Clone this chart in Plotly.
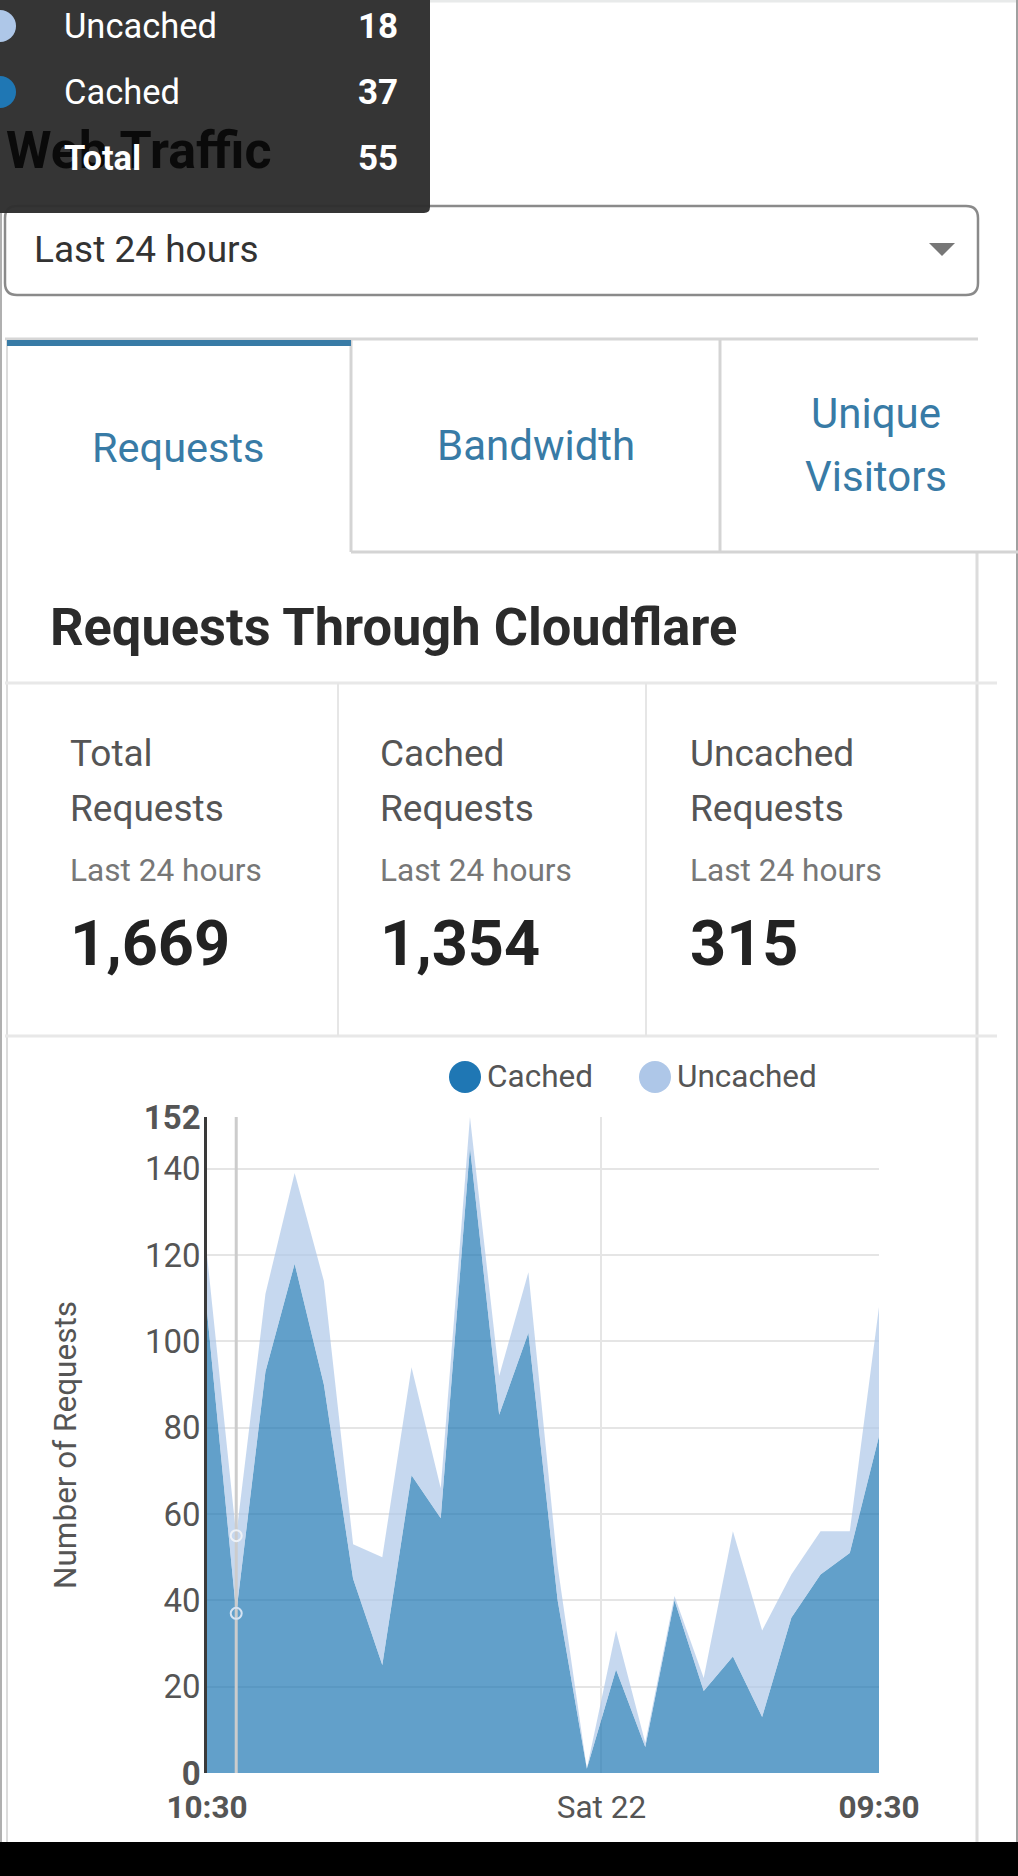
import plotly.graph_objs as go

W, H = 1018, 1876
# plot area in page pixels, paper coords are relative to this box
LEFT, RIGHT, TOP, BOTTOM = 207, 879, 1117, 1773

hours = ['2020-02-21 10:30', '2020-02-21 11:30', '2020-02-21 12:30', '2020-02-21 13:30',
         '2020-02-21 14:30', '2020-02-21 15:30', '2020-02-21 16:30', '2020-02-21 17:30',
         '2020-02-21 18:30', '2020-02-21 19:30', '2020-02-21 20:30', '2020-02-21 21:30',
         '2020-02-21 22:30', '2020-02-21 23:30', '2020-02-22 00:30', '2020-02-22 01:30',
         '2020-02-22 02:30', '2020-02-22 03:30', '2020-02-22 04:30', '2020-02-22 05:30',
         '2020-02-22 06:30', '2020-02-22 07:30', '2020-02-22 08:30', '2020-02-22 09:30']
cached = [107, 37, 93, 118, 90, 45, 25, 69, 59, 145, 83, 102,
          40, 1, 24, 6, 40, 19, 27, 13, 36, 46, 51, 78]
uncached = [13, 18, 18, 21, 24, 8, 25, 25, 7, 7, 9, 14,
            8, 0, 9, 1, 1, 3, 29, 20, 10, 10, 5, 30]

y_ticks = [0, 20, 40, 60, 80, 100, 120, 140, 152]
y_labels = ['<b>0</b>', '20', '40', '60', '80', '100', '120', '140', '<b>152</b>']
y_grid = [20, 40, 60, 80, 100, 120, 140]
x_ticks = ['2020-02-21 10:30', '2020-02-22 00:00', '2020-02-22 09:30']
x_labels = ['<b>10:30</b>', 'Sat 22', '<b>09:30</b>']
x_grid = ['2020-02-22 00:00']

tab_names = ['Requests', 'Bandwidth']
stat_names = [('Total', 'Requests'), ('Cached', 'Requests'), ('Uncached', 'Requests')]
stat_values = ['1,669', '1,354', '315']
tooltip_rows = [('Uncached', '18'), ('Cached', '37'), ('Total', '55')]

FONT = 'Roboto'
BLUE = '#1f77b4'
LIGHT = '#aec7e8'
LINK = '#387ba6'


def px(x):
    return (x - LEFT) / (RIGHT - LEFT)


def py(y):
    return (BOTTOM - y) / (BOTTOM - TOP)


def label(x, y, text, size, color, anchor='left', bold=False):
    return dict(xref='paper', yref='paper', x=px(x), y=py(y), text='<b>%s</b>' % text if bold else text,
                showarrow=False, xanchor=anchor, yanchor='middle', borderpad=0,
                font=dict(family=FONT, size=size, color=color))


def line(x0, y0, x1, y1, color, width=2):
    return dict(type='line', xref='paper', yref='paper', x0=px(x0), y0=py(y0), x1=px(x1), y1=py(y1),
                line=dict(color=color, width=width), layer='below')


def rect(x0, y0, x1, y1, fill, layer='above'):
    return dict(type='rect', xref='paper', yref='paper', x0=px(x0), y0=py(y0), x1=px(x1), y1=py(y1),
                fillcolor=fill, line=dict(width=0), layer=layer)


def dot(cx, cy, r, fill):
    return dict(type='circle', xref='paper', yref='paper', x0=px(cx - r), y0=py(cy - r), x1=px(cx + r), y1=py(cy + r),
                fillcolor=fill, line=dict(width=0), layer='above')


fig = go.Figure()
fig.add_trace(go.Scatter(x=hours, y=cached, name='Cached', mode='lines', stackgroup='requests',
                         line=dict(width=0), fillcolor='rgba(31,119,180,0.7)'))
fig.add_trace(go.Scatter(x=hours, y=uncached, name='Uncached', mode='lines', stackgroup='requests',
                         line=dict(width=0), fillcolor='rgba(174,199,232,0.7)'))

# hover guide that was frozen in the screenshot
fig.add_trace(go.Scatter(x=[hours[1], hours[1]], y=[0, 152], mode='lines', hoverinfo='skip',
                         line=dict(color='#cccccc', width=3)))
fig.add_trace(go.Scatter(x=[hours[1]], y=[cached[1] + uncached[1]], mode='markers', hoverinfo='skip',
                         marker=dict(size=11, color='rgba(0,0,0,0)', line=dict(color='#eef2f7', width=2))))
fig.add_trace(go.Scatter(x=[hours[1]], y=[cached[1]], mode='markers', hoverinfo='skip',
                         marker=dict(size=11, color='rgba(0,0,0,0)', line=dict(color='#d5e3f3', width=2))))

shapes = [
    line(430, 1, 1018, 1, '#e8eaea', 3),
    line(1, 213, 1, 1842, '#b0b0b0', 2),
    line(1017, 0, 1017, 1842, '#a0a0a0', 2),
    line(7, 340, 7, 1842, '#dcdcdc', 2),
    line(977, 552, 977, 1842, '#dcdcdc', 3),
    # select box
    dict(type='path', xref='paper', yref='paper', layer='below',
         path='M %f %f L %f %f Q %f %f %f %f L %f %f Q %f %f %f %f L %f %f Q %f %f %f %f L %f %f Q %f %f %f %f Z' % (
             px(17), py(206), px(966), py(206), px(978), py(206), px(978), py(218),
             px(978), py(283), px(978), py(295), px(966), py(295),
             px(17), py(295), px(5), py(295), px(5), py(283),
             px(5), py(218), px(5), py(206), px(17), py(206)),
         line=dict(color='#8a8a8a', width=2.5), fillcolor='white'),
    dict(type='path', xref='paper', yref='paper', layer='above',
         path='M %f %f L %f %f L %f %f Z' % (px(929), py(243), px(955), py(243), px(942), py(256)),
         fillcolor='#777777', line=dict(width=0)),
    # tabs
    line(5, 339, 978, 339, '#d6d6d6', 3),
    rect(7, 340, 351, 346, '#387ba6'),
    line(351, 340, 351, 552, '#d4d4d4', 3),
    line(720, 340, 720, 552, '#d4d4d4', 3),
    line(351, 552, 1018, 552, '#d4d4d4', 3),
    # stat panel
    line(5, 683, 997, 683, '#e8e8e8', 3),
    line(5, 1036, 997, 1036, '#e8e8e8', 3),
    line(338, 683, 338, 1036, '#e6e6e6', 2),
    line(646, 683, 646, 1036, '#e6e6e6', 2),
    # chart legend
    dot(465, 1077, 16, BLUE),
    dot(655, 1077, 16, LIGHT),
    # black strip under the page
    rect(0, 1842, W, H, 'black'),
    # tooltip frozen in the screenshot
    dict(type='path', xref='paper', yref='paper', layer='above',
         path='M %f %f L %f %f L %f %f Q %f %f %f %f L %f %f Z' % (
             px(0), py(0), px(430), py(0), px(430), py(207), px(430), py(213), px(424), py(213), px(0), py(213)),
         fillcolor='rgba(46,46,46,0.97)', line=dict(width=0)),
    dot(0, 26, 16, LIGHT),
    dot(0, 92, 16, BLUE),
]

annotations = [
    label(5, 150, 'Web Traffic', 52, '#0a0a0a', bold=True),
    label(33, 250, 'Last 24 hours', 37, '#333333'),
    label(178, 448, tab_names[0], 41.5, LINK, 'center'),
    label(536, 445, tab_names[1], 42, LINK, 'center'),
    label(876, 413, 'Unique', 42, LINK, 'center'),
    label(876, 476, 'Visitors', 42, LINK, 'center'),
    label(49, 627, 'Requests Through Cloudflare', 52.4, '#2b2b2b', bold=True),
    label(486, 1076, 'Cached', 31.5, '#555555'),
    label(676, 1076, 'Uncached', 31.5, '#555555'),
]
for col_x, names, value in zip([69, 379, 689], stat_names, stat_values):
    annotations.append(label(col_x, 753, names[0], 37, '#555555'))
    annotations.append(label(col_x, 808, names[1], 37, '#555555'))
    annotations.append(label(col_x, 870, 'Last 24 hours', 31.6, '#777777'))
    annotations.append(label(col_x, 943, value, 63, '#222222', bold=True))
for row_y, row in zip([26, 92, 158], tooltip_rows):
    is_total = row[0] == 'Total'
    annotations.append(label(63, row_y, row[0], 34.5, 'white', bold=is_total))
    annotations.append(label(399, row_y, row[1], 35, 'white', 'right', bold=True))

fig.update_layout(
    width=W,
    height=H,
    autosize=False,
    showlegend=False,
    paper_bgcolor='white',
    plot_bgcolor='white',
    margin=dict(l=LEFT, r=W - RIGHT, t=TOP, b=H - BOTTOM, pad=0),
    font=dict(family=FONT, color='#555555', size=30),
    shapes=shapes,
    annotations=annotations,
    xaxis=dict(
        type='date',
        range=[hours[0], hours[-1]],
        tickmode='array',
        tickvals=x_ticks,
        ticktext=x_labels,
        showgrid=False,
        zeroline=False,
        showline=False,
        ticks='outside',
        ticklen=6,
        tickcolor='rgba(0,0,0,0)',
        tickfont=dict(family=FONT, size=31.5, color='#555555'),
        minor=dict(tickmode='array', tickvals=x_grid, showgrid=True, gridcolor='#e5e5e5', gridwidth=2, ticks=''),
    ),
    yaxis=dict(
        range=[0, 152],
        tickmode='array',
        tickvals=y_ticks,
        ticktext=y_labels,
        showgrid=False,
        zeroline=False,
        showline=True,
        linecolor='#3a3a3a',
        linewidth=2.5,
        layer='below traces',
        ticks='',
        ticklabelstandoff=-3,
        tickfont=dict(family=FONT, size=33, color='#555555'),
        title=dict(text='Number of Requests', font=dict(family=FONT, size=31.5, color='#555555'), standoff=58),
        minor=dict(tickmode='array', tickvals=y_grid, showgrid=True, gridcolor='#e5e5e5', gridwidth=2, ticks=''),
    ),
)

fig.write_html('out.html', post_script="document.body.style.margin='0';", config=dict(displayModeBar=False))
